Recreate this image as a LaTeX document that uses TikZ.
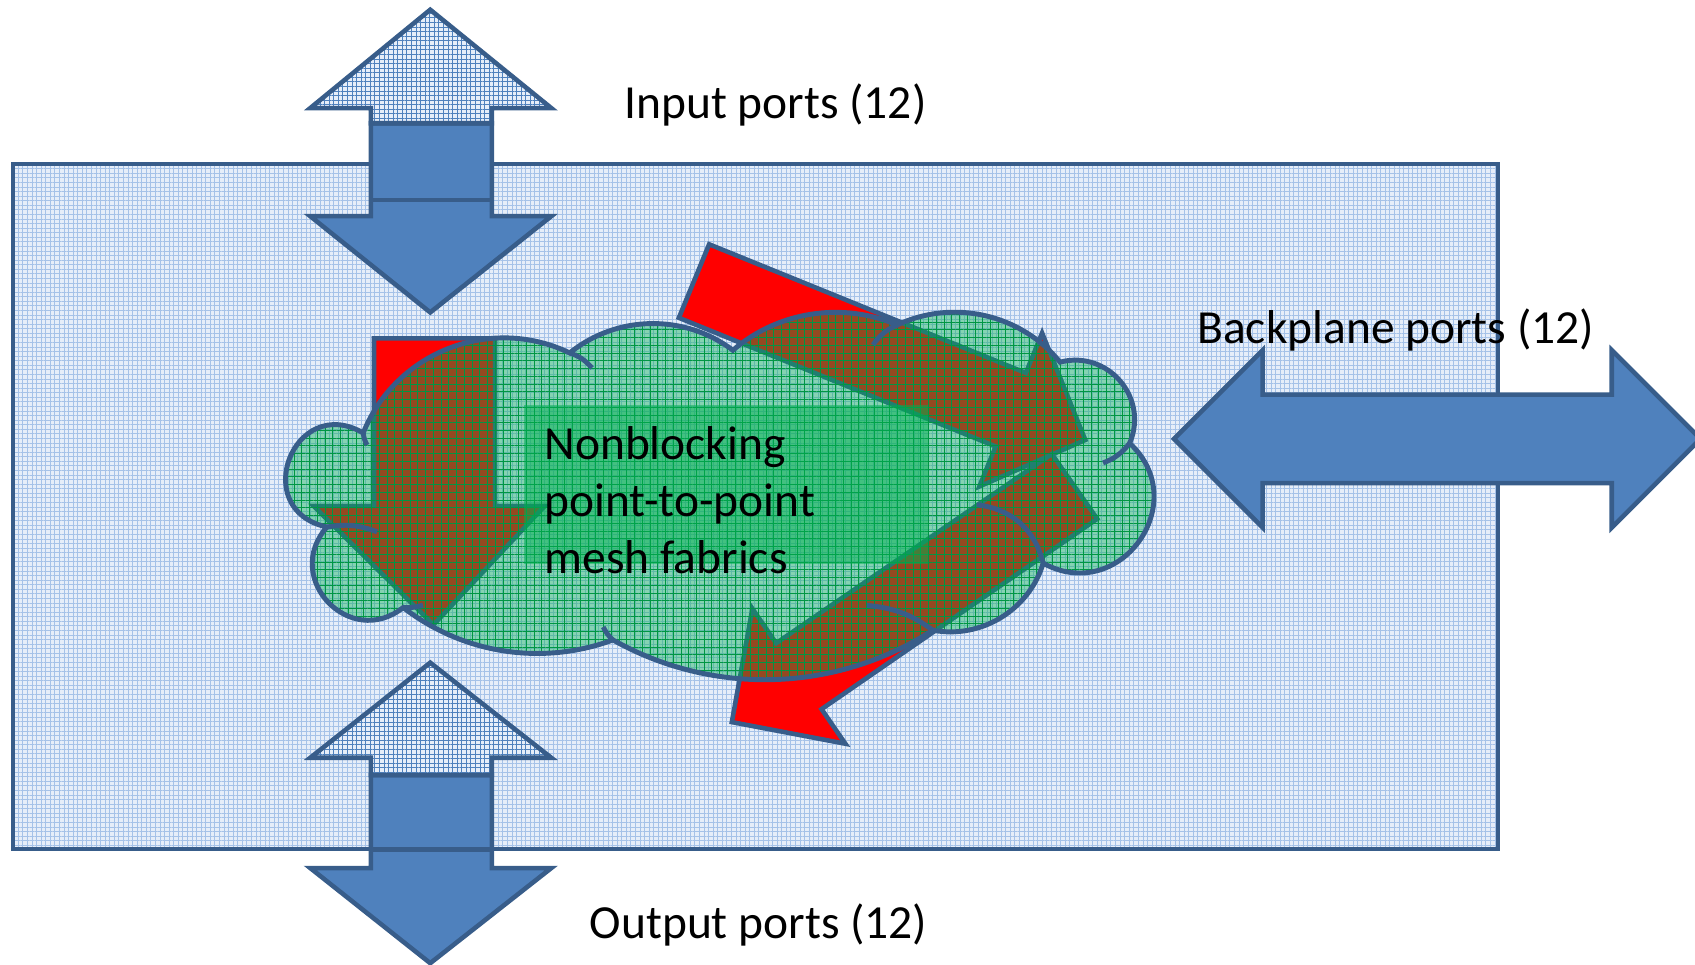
\documentclass[tikz,border=0pt]{standalone}
\usepackage{fontspec}
\setmainfont{Carlito}
\usepackage{tikz}
\usetikzlibrary{patterns.meta}

\definecolor{edgeblue}{RGB}{56,93,138}
\definecolor{portblue}{RGB}{79,129,189}
\definecolor{paleblue}{RGB}{230,238,249}
\definecolor{gridblue}{RGB}{165,194,232}
\definecolor{meshgreen}{RGB}{0,176,80}

\begin{document}
\begin{tikzpicture}[x=0.01081cm, y=-0.01081cm,
  chassis/.style={draw=edgeblue, line width=1.1pt, preaction={fill=paleblue}, pattern={Hatch[angle=0, distance=1.3pt, line width=.28pt]}, pattern color=gridblue},
  solidport/.style={draw=edgeblue, line width=1.3pt, fill=portblue},
  ghostport/.style={draw=edgeblue, line width=1.3pt, preaction={fill=paleblue}, pattern={Hatch[angle=0, distance=1.3pt, line width=.24pt]}, pattern color=portblue},
  flow/.style={draw=edgeblue, line width=1.3pt, fill=red},
  mesh/.style={draw=edgeblue, line width=1.4pt, preaction={fill=meshgreen, fill opacity=.42}, pattern={Hatch[angle=0, distance=2.2pt, line width=.2pt]}, pattern color=meshgreen!85!black, fill opacity=.5},
  meshtail/.style={draw=edgeblue, line width=1.4pt},
  meshbox/.style={fill=meshgreen, fill opacity=.5, inner sep=0pt, minimum width=4.03cm, minimum height=1.59cm},
  portlabel/.style={font=\fontsize{13.5}{16.2}\selectfont, inner sep=0pt, anchor=west}
]
\useasboundingbox (0,0) rectangle (1568,892);

\draw[chassis] (12,152) rectangle (1386,785);

\draw[solidport] (343,114) -- (455,114) -- (455,200) -- (510,200) -- (398,289) -- (287,200) -- (343,200) -- cycle;
\draw[ghostport] (398,9) -- (510,100) -- (455,100) -- (455,114) -- (343,114) -- (343,100) -- (287,100) -- cycle;
\draw[edgeblue, line width=1.3pt] (343,114) -- (343,185) -- (455,185) -- (455,114);

\draw[solidport] (343,717) -- (455,717) -- (455,803) -- (510,803) -- (398,891) -- (287,803) -- (343,803) -- cycle;
\draw[ghostport] (398,613) -- (510,701) -- (455,701) -- (455,717) -- (343,717) -- (343,701) -- (287,701) -- cycle;
\draw[edgeblue, line width=1.3pt] (343,717) -- (343,786) -- (455,786) -- (455,717);

\draw[solidport] (1086,406) -- (1168,324) -- (1168,365) -- (1491,365) -- (1491,324) -- (1573,406) -- (1491,488) -- (1491,447) -- (1168,447) -- (1168,488) -- cycle;

\draw[flow] (346,313) -- (458,313) -- (458,468) -- (504,468) -- (401,578) -- (290,468) -- (346,468) -- cycle;
\draw[flow] (656,226) -- (949,345) -- (964,308) -- (1004,407) -- (906,450) -- (921,413) -- (628,294) -- cycle;
\draw[flow] (973,420) -- (718,595) -- (696,563) -- (677,668) -- (782,688) -- (760,656) -- (1015,480) -- cycle;

\draw[mesh] (302.5,487.5) to[bend left=99, looseness=2.04] (336,400.5)
  to[bend left=47, looseness=1.01] (527,326.5)
  to[bend left=38, looseness=.95] (678,324)
  to[bend left=32, looseness=.92] (830,300.6)
  to[bend left=38, looseness=.95] (980.6,335)
  to[bend left=64, looseness=1.18] (1045,410)
  to[bend left=83, looseness=1.51] (965,521)
  to[bend left=42, looseness=.97] (863,583)
  to[bend left=31, looseness=.92] (567,592)
  to[bend left=29, looseness=.91] (373,562)
  to[bend left=85, looseness=1.57] (302.5,487.5) -- cycle;
\draw[meshtail] (302.5,487.5) to[bend left=15] (348.8,492);
\draw[meshtail] (339.5,411.7) to[bend left=10] (336,400.5);
\draw[meshtail] (527,326.5) to[bend left=15] (547.6,340.4);
\draw[meshtail] (807.6,319) to[bend left=15] (830,300.6);
\draw[meshtail] (1045,410) to[bend left=15] (1020.4,428.3);
\draw[meshtail] (903.8,467) to[bend left=35] (965,521);
\draw[meshtail] (802,560) to[bend left=15] (863,583);
\draw[meshtail] (567,592) to[bend left=10] (558,580);
\draw[meshtail] (391.3,559.7) to[bend left=10] (373,562);

\node[meshbox] (fabricbox) at (671.5,448.5) {};
\node[portlabel, align=left] (fabrictext) at (503,463) {Nonblocking\\point-to-point\\mesh fabrics};

\node[portlabel] (inlabel) at (577,97) {Input ports (12)};
\node[portlabel] (backlabel) at (1107,305) {Backplane ports (12)};
\node[portlabel] (outlabel) at (545,856) {Output ports (12)};

\end{tikzpicture}
\end{document}
